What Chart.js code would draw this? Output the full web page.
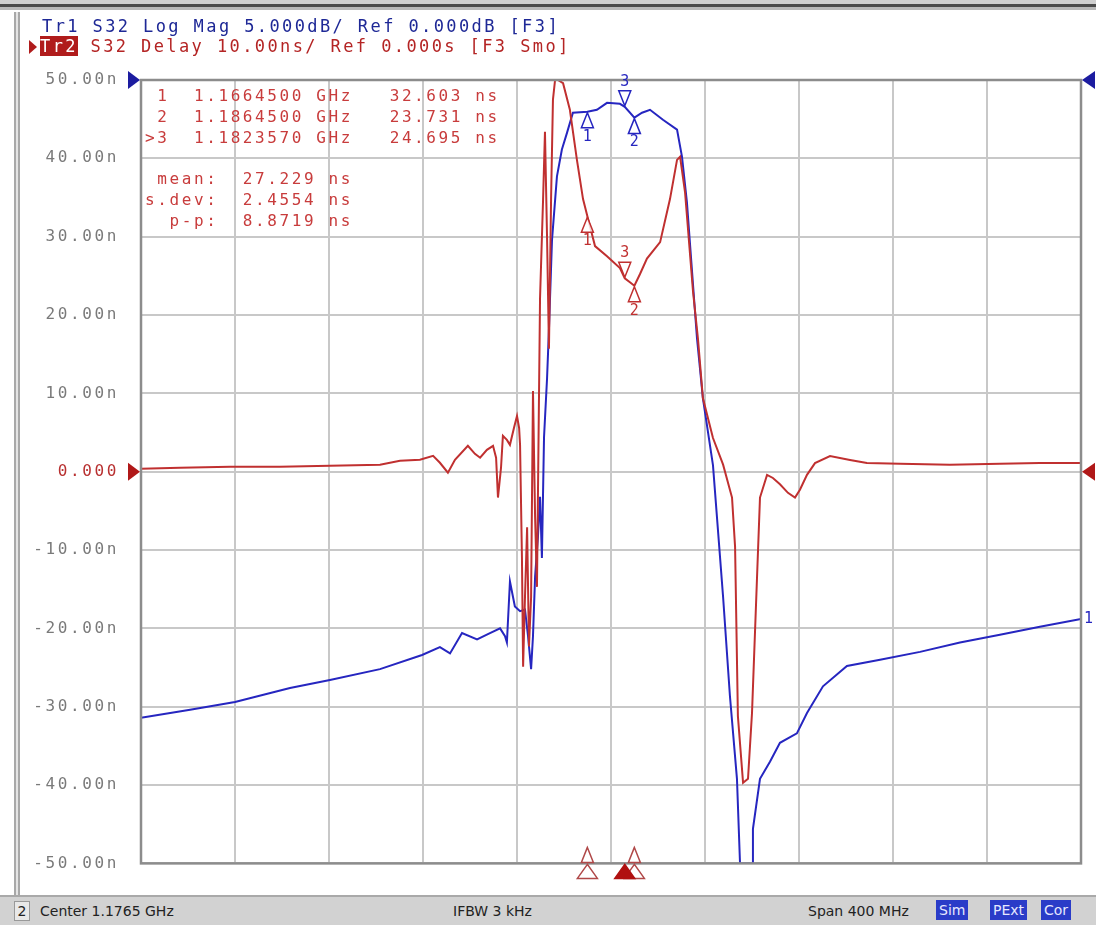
<!DOCTYPE html>
<html>
<head>
<meta charset="utf-8">
<script src="https://cdn.jsdelivr.net/npm/chart.js@4.4.1/dist/chart.umd.min.js"></script>
<style>
  body { margin: 0; width: 1096px; height: 925px; overflow: hidden; background: #fff; position: relative; }
  .mono { font-family: "DejaVu Sans Mono", monospace; white-space: pre; position: absolute; }
  #topbar { position: absolute; left: 0; top: 0; width: 1096px; height: 4px; background: #cfcfcf; border-bottom: 3px solid #4a4a4a; }
  #topbar2 { position: absolute; left: 0; top: 7px; width: 1096px; height: 3px; background: #b8b8b8; }
  #leftframe { position: absolute; left: 14px; top: 12px; width: 2px; height: 883px; border-left: 2px solid #a8a8a8; border-right: 2px solid #a8a8a8; background: #e4e4e4; }
  #plot { position: absolute; left: 0; top: 0; }
  #hdr1 { left: 42px; top: 16px; font-size: 17px; letter-spacing: 2.4px; color: #1e2896; }
  #hdr2 { left: 40px; top: 36px; font-size: 17px; letter-spacing: 2.4px; color: #b42424; }
  #hdr2 .tr { background: #b01c1c; color: #fff; }
  #hdrtri { position: absolute; left: 29px; top: 40px; width: 0; height: 0; border-top: 7px solid transparent; border-bottom: 7px solid transparent; border-left: 8px solid #b01c1c; }
  #mtable { left: 145px; top: 86px; font-size: 16px; line-height: 20.8px; letter-spacing: 2.6px; color: #c83c3c; }
  #status { position: absolute; left: 0; top: 895px; width: 1096px; height: 30px; background: #d2d2d2; border-top: 2px solid #a9a9a9; box-sizing: border-box; font-family: "DejaVu Sans", sans-serif; font-size: 14px; color: #222; }
  #status span { position: absolute; top: 6px; }
  #status .box { top: 3px; height: 20px; line-height: 20px; padding: 0 3px; background: #2a3cc8; color: #e6e8ff; }
  #chnum { left: 14px; width: 14px; text-align: center; background: #e8e8e8; border: 1px solid #999; top: 4px !important; height: 18px; line-height: 18px; }
</style>
</head>
<body>
<div id="topbar"></div>
<div id="topbar2"></div>
<div id="leftframe"></div>
<canvas id="plot" width="1096" height="895"></canvas>
<div id="hdr1" class="mono">Tr1 S32 Log Mag 5.000dB/ Ref 0.000dB [F3]</div>
<div id="hdrtri"></div>
<div id="hdr2" class="mono"><span class="tr">Tr2</span> S32 Delay 10.00ns/ Ref 0.000s [F3 Smo]</div>
<div id="mtable" class="mono"> 1  1.1664500 GHz   32.603 ns
 2  1.1864500 GHz   23.731 ns
>3  1.1823570 GHz   24.695 ns

 mean:  27.229 ns
s.dev:  2.4554 ns
  p-p:  8.8719 ns</div>
<div id="status">
  <span id="chnum">2</span>
  <span style="left:40px">Center 1.1765 GHz</span>
  <span style="left:453px">IFBW 3 kHz</span>
  <span style="left:808px">Span 400 MHz</span>
  <span class="box" style="left:936px">Sim</span>
  <span class="box" style="left:990px">PExt</span>
  <span class="box" style="left:1041px">Cor</span>
</div>
<script>
const centerMHz = 1176.5;
const spanMHz = 400;

// Tr2: S32 group delay (ns)
const delayFreqMHz = [976.5, 993.1, 1014.4, 1035.6, 1056.9, 1078.2, 1086.7, 1095.2, 1100.8, 1103.7,
    1107.1, 1110.1, 1115.6, 1118.6, 1120.8, 1123.7, 1126.3, 1127.6, 1128.4, 1129.7,
    1130.5, 1132.2, 1133.5, 1135.2, 1136.5, 1137.4, 1137.8, 1138.6, 1139.1, 1139.9,
    1140.8, 1141.6, 1142.5, 1143.3, 1144.2, 1145.0, 1146.3, 1147.6, 1148.4, 1149.3,
    1150.1, 1151.0, 1151.8, 1152.7, 1153.9, 1156.1, 1159.0, 1162.0, 1164.6, 1166.45,
    1169.7, 1174.8, 1180.3, 1182.36, 1184.0, 1186.45, 1188.8, 1191.8, 1197.4, 1201.6,
    1204.6, 1205.9, 1208.0, 1211.4, 1213.5, 1215.6, 1219.9, 1224.2, 1228.0, 1229.3,
    1230.5, 1232.7, 1234.8, 1236.5, 1238.6, 1239.9, 1242.9, 1245.4, 1248.4, 1251.8,
    1254.8, 1256.9, 1259.9, 1263.3, 1269.7, 1278.2, 1285.4, 1299.5, 1320.7, 1342.0,
    1359.0, 1376.5];
const delayNs = [0.38, 0.51, 0.63, 0.63, 0.76, 0.89, 1.40, 1.52, 2.03, 1.14,
    -0.13, 1.52, 3.30, 2.28, 1.78, 2.79, 3.30, 1.78, -3.30, 0.51,
    4.57, 4.06, 3.43, 5.58, 7.11, 5.58, 3.43, -10.9, -24.9, -16.0,
    -7.1, -22.3, -16.0, 10.3, -5.8, -14.7, 22.1, 34.8, 43.4, 29.7,
    15.7, 34.8, 47.5, 50.0, 50.0, 49.6, 46.2, 39.8, 34.8, 32.603,
    28.8, 27.5, 26.0, 24.695, 24.3, 23.731, 25.2, 27.2, 29.3, 34.8,
    39.8, 40.2, 35.7, 23.0, 17.0, 9.4, 4.3, 0.9, -3.3, -9.6,
    -31.2, -39.7, -39.2, -30.8, -13.8, -3.3, -0.4, -0.8, -1.6, -2.7,
    -3.3, -2.3, -0.4, 1.1, 2.0, 1.5, 1.1, 1.0, 0.9, 1.0,
    1.1, 1.1];

// Tr1: S32 log magnitude (dB)
const magFreqMHz = [976.5, 997.4, 1016.5, 1039.9, 1056.9, 1078.2, 1096.1, 1103.7, 1108.0, 1113.1,
    1119.5, 1125.0, 1129.3, 1131.4, 1132.2, 1133.5, 1134.8, 1135.6, 1137.8, 1139.9,
    1141.2, 1142.5, 1143.3, 1144.2, 1145.4, 1146.3, 1147.1, 1148.0, 1149.3, 1150.1,
    1151.4, 1153.5, 1155.6, 1157.8, 1160.3, 1166.45, 1170.5, 1174.8, 1180.3, 1182.36,
    1186.45, 1189.7, 1193.1, 1198.6, 1204.6, 1206.7, 1208.8, 1213.1, 1215.6, 1219.9,
    1224.2, 1227.1, 1230.1, 1231.4, 1236.5, 1236.9, 1239.9, 1244.2, 1248.4, 1255.6,
    1259.9, 1266.7, 1276.9, 1291.0, 1308.0, 1325.0, 1342.0, 1359.0, 1376.5];
const magDb = [-40.7, -40.2, -39.7, -38.8, -38.3, -37.6, -36.7, -36.2, -36.6, -35.3,
    -35.7, -35.3, -35.0, -35.5, -35.9, -32.0, -33.0, -33.6, -33.9, -33.8,
    -35.5, -37.6, -35.5, -31.7, -29.2, -26.6, -30.5, -22.8, -19.0, -15.9,
    -10.2, -6.15, -4.44, -3.36, -2.09, -2.03, -1.90, -1.46, -1.52, -1.71,
    -2.40, -2.09, -1.90, -2.54, -3.17, -4.89, -7.80, -16.5, -20.3, -24.6,
    -33.0, -39.3, -44.6, -50.0, -50.0, -47.8, -44.6, -43.5, -42.3, -41.7,
    -40.4, -38.7, -37.4, -37.0, -36.5, -35.9, -35.4, -34.9, -34.4];

// markers (shared stimulus)
const markerFreqMHz = [1166.45, 1186.45, 1182.357];
const markerLabels = ['1', '2', '3'];
const markerDelayNs = [32.603, 23.731, 24.695];
const markerMagDb = [-2.03, -2.40, -1.71];
const activeMarker = 2;

const magRefDb = 0;
const delayRefNs = 0;

const RED = '#c03030';
const BLUE = '#2626c0';

const xGridMHz = [];
for (let i = 0; i <= 10; i++) xGridMHz.push(centerMHz - spanMHz / 2 + i * spanMHz / 10);

function toPoints(xs, ys) {
    return xs.map((x, i) => ({ x: x, y: ys[i] }));
}

function triangle(ctx, cx, tipY, baseY, half, fill, stroke) {
    ctx.beginPath();
    ctx.moveTo(cx, tipY);
    ctx.lineTo(cx - half, baseY);
    ctx.lineTo(cx + half, baseY);
    ctx.closePath();
    if (fill) { ctx.fillStyle = fill; ctx.fill(); }
    if (stroke) { ctx.strokeStyle = stroke; ctx.lineWidth = 1.5; ctx.stroke(); }
}

const vnaDecor = {
    id: 'vnaDecor',
    beforeDraw(chart) {
        chart.ctx.letterSpacing = '2.6px';
    },
    afterDraw(chart) {
        const ctx = chart.ctx;
        const area = chart.chartArea;
        const xs = chart.scales.x, yd = chart.scales.y, ym = chart.scales.y2;
        ctx.save();
        ctx.letterSpacing = '0px';

        // plot border
        ctx.strokeStyle = '#8c8c8c';
        ctx.lineWidth = 2.5;
        ctx.strokeRect(area.left, area.top, area.right - area.left, area.bottom - area.top);

        // reference level arrows
        const refs = [[ym.getPixelForValue(magRefDb), '#1c1ca0'], [yd.getPixelForValue(delayRefNs), '#b01818']];
        refs.forEach(([yy, col]) => {
            ctx.fillStyle = col;
            ctx.beginPath();
            ctx.moveTo(area.left - 13, yy - 9); ctx.lineTo(area.left - 1, yy); ctx.lineTo(area.left - 13, yy + 9);
            ctx.fill();
            ctx.beginPath();
            ctx.moveTo(area.right + 14, yy - 9); ctx.lineTo(area.right + 1, yy); ctx.lineTo(area.right + 14, yy + 9);
            ctx.fill();
        });

        // markers on traces
        ctx.font = '15px "DejaVu Sans Mono"';
        ctx.textAlign = 'center';
        ctx.textBaseline = 'middle';
        markerFreqMHz.forEach((f, i) => {
            const px = xs.getPixelForValue(f);
            [[ym.getPixelForValue(markerMagDb[i]), BLUE], [yd.getPixelForValue(markerDelayNs[i]), RED]].forEach(([py, col]) => {
                if (i === activeMarker) {
                    triangle(ctx, px, py - 1, py - 16, 6, 'rgba(255,255,255,0.8)', col);
                    ctx.fillStyle = col;
                    ctx.fillText(markerLabels[i], px, py - 25);
                } else {
                    triangle(ctx, px, py + 1, py + 16, 6, 'rgba(255,255,255,0.8)', col);
                    ctx.fillStyle = col;
                    ctx.fillText(markerLabels[i], px, py + 25);
                }
            });
        });

        // stimulus markers along the bottom
        markerFreqMHz.forEach((f, i) => {
            const px = xs.getPixelForValue(f);
            if (i !== activeMarker) {
                triangle(ctx, px, area.bottom - 16, area.bottom - 1, 6, '#fff', '#b04848');
                triangle(ctx, px, area.bottom + 1, area.bottom + 15, 10, '#fff', '#b04848');
            }
        });
        const pa = xs.getPixelForValue(markerFreqMHz[activeMarker]);
        triangle(ctx, pa, area.bottom + 1, area.bottom + 15, 10, '#b01010', '#b01010');

        // trace number at end of Tr1
        ctx.textAlign = 'left';
        ctx.fillStyle = BLUE;
        ctx.fillText('1', area.right + 3, ym.getPixelForValue(magDb[magDb.length - 1]));
        ctx.restore();
    }
};

const plotCanvas = document.querySelector('#plot');

const vnaChart = new Chart(plotCanvas, {
    type: 'line',
    data: {
        datasets: [{
            label: 'Tr2 S32 Delay',
            data: toPoints(delayFreqMHz, delayNs),
            yAxisID: 'y',
            borderColor: RED,
            borderWidth: 2,
            pointRadius: 0,
            tension: 0,
            order: 0,
        }, {
            label: 'Tr1 S32 Log Mag',
            data: toPoints(magFreqMHz, magDb),
            yAxisID: 'y2',
            borderColor: BLUE,
            borderWidth: 2,
            pointRadius: 0,
            tension: 0,
            order: 1,
        }]
    },
    options: {
        responsive: false,
        animation: false,
        devicePixelRatio: 1,
        layout: { padding: { top: 80, bottom: 27, left: 0, right: 15 } },
        plugins: {
            legend: { display: false },
            tooltip: { enabled: false },
        },
        scales: {
            x: {
                type: 'linear',
                min: centerMHz - spanMHz / 2,
                max: centerMHz + spanMHz / 2,
                ticks: { display: false },
                grid: { color: '#c8c8c8', lineWidth: 2, drawTicks: false },
                border: { display: false },
                afterBuildTicks: (scale) => { scale.ticks = xGridMHz.map(v => ({ value: v })); },
                afterFit: (scale) => { scale.height = 0; },
            },
            y: {
                min: -50,
                max: 50,
                ticks: {
                    stepSize: 10,
                    padding: 22,
                    font: { family: 'DejaVu Sans Mono', size: 16 },
                    color: (c) => c.tick && c.tick.value === 0 ? '#b83030' : '#7a7a7a',
                    callback: (v) => v === 0 ? '0.000' : v.toFixed(2) + 'n',
                },
                grid: { color: '#c8c8c8', lineWidth: 2, drawTicks: false },
                border: { display: false },
                afterFit: (scale) => { scale.width = 141; },
            },
            y2: {
                display: false,
                min: -50,
                max: 0,
            }
        }
    },
    plugins: [vnaDecor]
});
</script>
</body>
</html>
